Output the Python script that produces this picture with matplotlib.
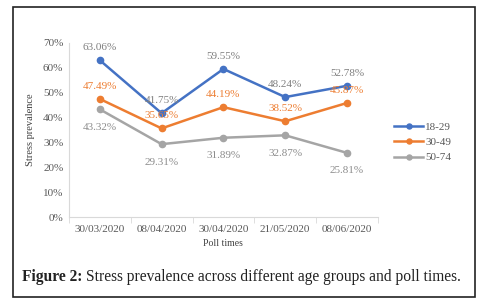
import matplotlib.pyplot as plt
from matplotlib.patches import Rectangle

# Данные
poll_times = ["30/03/2020", "08/04/2020", "30/04/2020", "21/05/2020", "08/06/2020"]
age_18_29 = [63.06, 41.75, 59.55, 48.24, 52.78]
age_30_49 = [47.49, 35.65, 44.19, 38.52, 45.87]
age_50_74 = [43.32, 29.31, 31.89, 32.87, 25.81]

font = "Liberation Serif"
tick_col = "#595959"

fig = plt.figure(figsize=(4.82, 3.07), dpi=100)
ax = fig.add_axes([0.143, 0.293, 0.641, 0.567])

x = list(range(len(poll_times)))
series = [
    (age_18_29, "18-29", "#4472C4", "#7f7f7f", 9),
    (age_30_49, "30-49", "#ED7D31", "#ED7D31", 9),
    (age_50_74, "50-74", "#A5A5A5", "#8c8c8c", -13),
]
for vals, name, col, lab_col, dy in series:
    ax.plot(x, [v / 100 for v in vals], color=col, lw=1.8, marker="o", ms=4.5, label=name)
    for xi, v in zip(x, vals):
        ax.annotate("%.2f%%" % v, (xi, v / 100), xytext=(0, dy), textcoords="offset points",
                    ha="center", va="center", fontsize=8, color=lab_col, family=font)

ax.set_ylim(0, 0.7)
ax.set_xlim(-0.5, 4.5)
ax.set_yticks([i / 10 for i in range(8)])
ax.set_yticklabels(["%d%%" % (i * 10) for i in range(8)])
ax.set_xticks(x)
ax.set_xticklabels(poll_times)
ax.set_xticks([i - 0.5 for i in range(6)], minor=True)
ax.tick_params(axis="x", which="major", length=0, pad=6)
ax.tick_params(axis="x", which="minor", length=4, color="#d9d9d9")
ax.tick_params(axis="y", length=0, pad=4)
for lbl in ax.get_xticklabels() + ax.get_yticklabels():
    lbl.set_fontfamily(font)
    lbl.set_fontsize(8)
    lbl.set_color(tick_col)

for s in ["top", "right"]:
    ax.spines[s].set_visible(False)
ax.spines["left"].set_color("#d9d9d9")
ax.spines["bottom"].set_color("#d9d9d9")

ax.set_ylabel("Stress prevalence", family=font, fontsize=7.5, color="#404040", labelpad=6)
ax.set_xlabel("Poll times", family=font, fontsize=7, color="#404040", labelpad=3)

leg = ax.legend(loc="center left", bbox_to_anchor=(1.02, 0.43), frameon=False,
                prop={"family": font, "size": 8}, handlelength=2.6, handletextpad=0.2,
                labelspacing=0.5, labelcolor=tick_col, markerscale=0.8)

# рамка и подпись
fig.patches.append(Rectangle((13 / 482, 10 / 307), 462 / 482, 290 / 307, transform=fig.transFigure,
                             fill=False, edgecolor="#222222", lw=1.2))
cap_y = 1 - 277 / 307
t1 = fig.text(22 / 482, cap_y, "Figure 2:", ha="left", va="center", fontsize=11.2,
              family=font, weight="bold", color="#222222")
r = fig.canvas.get_renderer()
bb = t1.get_window_extent(r)
fig.text((bb.x1 + 4) / 482, cap_y, "Stress prevalence across different age groups and poll times.",
         ha="left", va="center", fontsize=11.2, family=font, color="#222222")

fig.savefig("out.png", dpi=100)
